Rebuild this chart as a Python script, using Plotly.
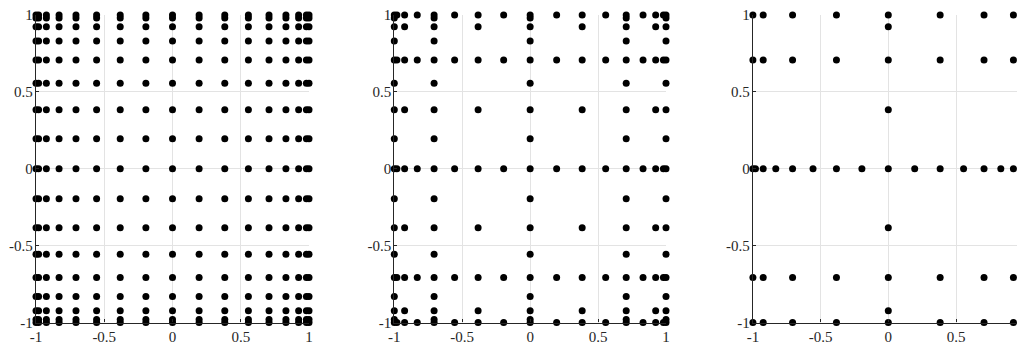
import itertools
import plotly.graph_objects as go

# Nested Clenshaw-Curtis (Chebyshev extrema) node sets
LEVEL_0 = [0]
LEVEL_1 = [-1, 0, 1]
LEVEL_2 = [-1, -0.707, 0, 0.707, 1]
LEVEL_3 = [-1, -0.924, -0.707, -0.383, 0, 0.383, 0.707, 0.924, 1]
LEVEL_4 = [-1, -0.981, -0.924, -0.831, -0.707, -0.556, -0.383, -0.195, 0,
           0.195, 0.383, 0.556, 0.707, 0.831, 0.924, 0.981, 1]
LEVELS = [LEVEL_0, LEVEL_1, LEVEL_2, LEVEL_3, LEVEL_4]

# (x-level, y-level) tensor blocks whose union forms each panel's grid
PANEL_1_BLOCKS = [(4, 4)]
PANEL_2_BLOCKS = [(4, 2), (3, 3), (2, 4)]
PANEL_3_BLOCKS = [(4, 0), (3, 2), (0, 3)]
PANELS = [PANEL_1_BLOCKS, PANEL_2_BLOCKS, PANEL_3_BLOCKS]

TICK_VALS = [-1, -0.5, 0, 0.5, 1]
TICK_TEXT = ["-1", "-0.5", "0", "0.5", "1"]


def grid_points(blocks):
    pts = set()
    for lx, ly in blocks:
        for x, y in itertools.product(LEVELS[lx], LEVELS[ly]):
            pts.add((x, y))
    pts = sorted(pts)
    return [p[0] for p in pts], [p[1] for p in pts]


W, H = 1025, 343
OFF = 8  # page body margin
x_px = [(36, 309), (394.3, 666), (752.9, 1023.7)]
x_domains = [((a - OFF) / W, (b - OFF) / W) for a, b in x_px]
y_domain = ((H - (322.5 - OFF)) / H, (H - (15 - OFF)) / H)

fig = go.Figure()
font = dict(family="Liberation Serif, Times New Roman, serif", size=15, color="#262626")

for i, blocks in enumerate(PANELS):
    xs, ys = grid_points(blocks)
    sfx = "" if i == 0 else str(i + 1)
    fig.add_trace(go.Scatter(
        x=xs, y=ys, mode="markers",
        marker=dict(size=7, color="black"),
        cliponaxis=False, showlegend=False, hoverinfo="skip",
        xaxis="x" + sfx, yaxis="y" + sfx,
    ))
    axis_common = dict(
        range=[-1, 1], tickvals=TICK_VALS, ticktext=TICK_TEXT,
        showgrid=True, gridcolor="#e3e3e3", gridwidth=1,
        zeroline=False, showline=True, linecolor="#262626", linewidth=1.3,
        ticks="inside", ticklen=3, tickwidth=1, tickcolor="#262626",
        tickfont=font, mirror=False, fixedrange=True, automargin=False,
        ticklabeloverflow="allow",
    )
    fig.update_layout(**{
        "xaxis" + sfx: dict(domain=list(x_domains[i]), anchor="y" + sfx, **axis_common),
        "yaxis" + sfx: dict(domain=list(y_domain), anchor="x" + sfx,
                            ticklabelstandoff=-1, **axis_common),
    })

fig.update_layout(
    width=W, height=H,
    margin=dict(l=0, r=0, t=0, b=0, pad=0, autoexpand=False),
    paper_bgcolor="white", plot_bgcolor="white",
    font=font,
)

fig.write_html("out.html")
